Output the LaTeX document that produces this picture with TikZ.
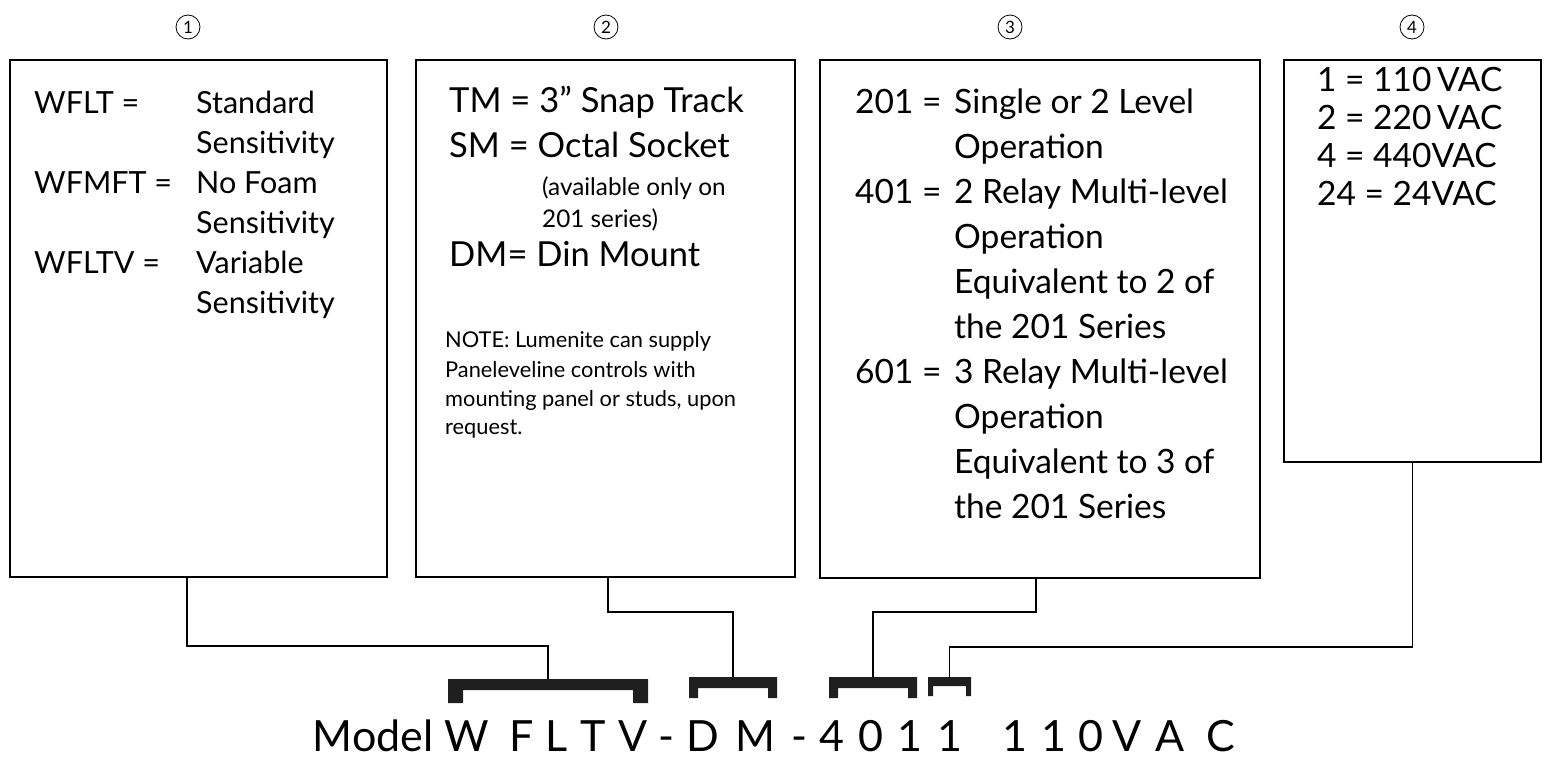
\documentclass[tikz,border=0pt]{standalone}
\usepackage{fontspec}
\setmainfont{Lato}
\newcommand{\mkbracket}[3]{%
  \fill[brkfill] (#1.north west) -- (#1.north east) -- (#1.south east)
    -- ([xshift=-#2pt]#1.south east) -- ([xshift=-#2pt,yshift=-#3pt]#1.north east)
    -- ([xshift=#2pt,yshift=-#3pt]#1.north west) -- ([xshift=#2pt]#1.south west)
    -- (#1.south west) -- cycle;}
\begin{document}
\begin{tikzpicture}[x=1pt,y=-1pt,
  box/.style={draw, line width=2pt, inner sep=0pt, outer sep=0pt},
  conn/.style={line width=1.5pt},
  ta/.style={anchor=base west, inner sep=0pt, font=\fontsize{30.5}{36}\selectfont},
  tb/.style={anchor=base west, inner sep=0pt, font=\fontsize{34.5}{40}\selectfont},
  tc/.style={anchor=base west, inner sep=0pt, font=\fontsize{33.5}{40}\selectfont},
  tsm/.style={anchor=base west, inner sep=0pt, font=\fontsize{24.3}{28}\selectfont},
  tnote/.style={anchor=base west, inner sep=0pt, font=\fontsize{21.8}{26}\selectfont},
  circ/.style={circle, draw, line width=0.8pt, minimum size=24pt, inner sep=0pt, font=\fontsize{17}{19}\selectfont},
  big/.style={anchor=base, inner sep=0pt, font=\fontsize{43}{48}\selectfont},
  brk/.style={inner sep=0pt, outer sep=0pt},
  brkfill/.style={fill=black!88}
]
\useasboundingbox (0,0) rectangle (1545,758);

% circled numbers
\node[circ] (c1) at (188,27) {1};
\node[circ] (c2) at (606,27) {2};
\node[circ] (c3) at (1010,27) {3};
\node[circ] (c4) at (1412,27) {4};

% boxes
\node[box, minimum width=377pt, minimum height=517pt] (b1) at (198.5,318.5) {};
\node[box, minimum width=379pt, minimum height=517pt] (b2) at (605.5,318.5) {};
\node[box, minimum width=440pt, minimum height=518pt] (b3) at (1040,319) {};
\node[box, minimum width=257pt, minimum height=402pt] (b4) at (1412.5,261) {};

% box 1 text
\node[ta] (t1a) at (34,113) {WFLT =};
\node[ta] (t1b) at (196,113) {Standard};
\node[ta] (t1c) at (196,153) {Sensitivity};
\node[ta] (t1d) at (34,193) {WFMFT =};
\node[ta] (t1e) at (196,193) {No Foam};
\node[ta] (t1f) at (196,233) {Sensitivity};
\node[ta] (t1g) at (34,273) {WFLTV =};
\node[ta] (t1h) at (196,273) {Variable};
\node[ta] (t1i) at (196,313) {Sensitivity};

% box 2 text
\node[tb] (t2a) at (449,112) {TM = 3” Snap Track};
\node[tb] (t2b) at (449,157) {SM = Octal Socket};
\node[tsm] (t2c) at (542,195) {(available only on};
\node[tsm] (t2d) at (542,227) {201 series)};
\node[tb] (t2e) at (449,266) {DM= Din Mount};
\node[tnote] (t2f) at (445,347) {NOTE: Lumenite can supply};
\node[tnote] (t2g) at (445,377) {Paneleveline controls with};
\node[tnote] (t2h) at (445,406) {mounting panel or studs, upon};
\node[tnote] (t2i) at (445,434) {request.};

% box 3 text
\node[tc] (t3a) at (855,113) {201 =};
\node[tc] (t3b) at (954,113) {Single or 2 Level};
\node[tc] (t3c) at (954,158) {Operation};
\node[tc] (t3d) at (855,203) {401 =};
\node[tc] (t3e) at (954,203) {2 Relay Multi-level};
\node[tc] (t3f) at (954,248) {Operation};
\node[tc] (t3g) at (954,293) {Equivalent to 2 of};
\node[tc] (t3h) at (954,338) {the 201 Series};
\node[tc] (t3i) at (855,383) {601 =};
\node[tc] (t3j) at (954,383) {3 Relay Multi-level};
\node[tc] (t3k) at (954,428) {Operation};
\node[tc] (t3l) at (954,473) {Equivalent to 3 of};
\node[tc] (t3m) at (954,518) {the 201 Series};

% box 4 text
\node[tc] (t4a) at (1317,91) {1 = 110\,VAC};
\node[tc] (t4b) at (1317,129) {2 = 220\,VAC};
\node[tc] (t4c) at (1317,167) {4 = 440VAC};
\node[tc] (t4d) at (1317,205) {24 = 24VAC};

% brackets
\node[brk, minimum width=200pt, minimum height=24pt] (br1) at (548,691) {};
\node[brk, minimum width=88pt, minimum height=21pt] (br2) at (733,687.5) {};
\node[brk, minimum width=88pt, minimum height=21pt] (br3) at (873,687.5) {};
\node[brk, minimum width=43pt, minimum height=19pt] (br4) at (949.5,686.5) {};
\mkbracket{br1}{15}{11}
\mkbracket{br2}{9}{11}
\mkbracket{br3}{9}{11}
\mkbracket{br4}{5}{9}

% connectors
\draw[conn] ([xshift=-11.5pt]b1.south) -- ++(0,69) -| (br1.north);
\draw[conn] ([xshift=2.5pt]b2.south) -- ++(0,35) -| (br2.north);
\draw[conn] ([xshift=-4pt]b3.south) -- ++(0,34) -| (br3.north);
\draw[conn] (b4.south) -- ++(0,185) -| (br4.north);

% model string
\node[big] (model) at (373,751) {Model};
\foreach \ch/\xx [count=\i] in {W/467, F/522, L/557, T/593, V/633, -/666, D/703, M/755, -/799, 4/832, 0/871, 1/910, 1/950, 1/1015, 1/1054, 0/1091, V/1127, A/1170, C/1221}
  \node[big] (m\i) at (\xx,751) {\ch};
\end{tikzpicture}
\end{document}
